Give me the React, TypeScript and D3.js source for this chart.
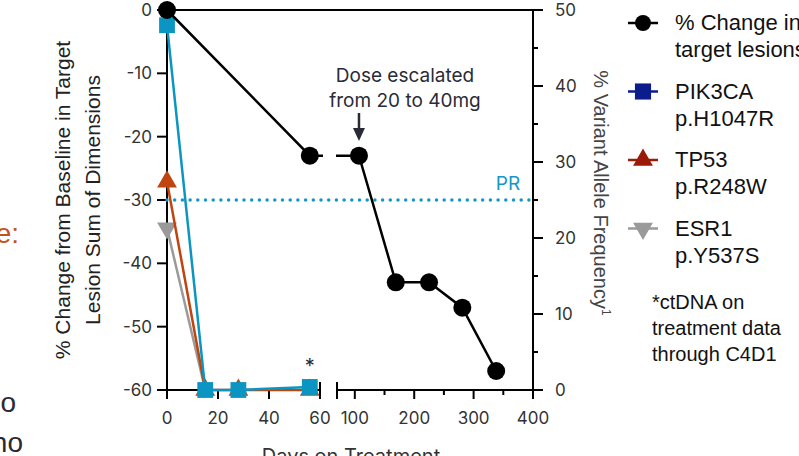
import React from "react";
import * as d3 from "d3";

// % change in target lesions (left axis)
const lesionDays = [0, 56, 107, 169, 225, 281, 338];
const lesionChange = [0, -23, -23, -43, -43, -47, -57];

// ctDNA variant allele frequency (right axis)
const vafDays = [0, 15, 28, 56];
const pik3ca = [48, 0, 0, 0.4];
const tp53 = [27.4, 0, 0, 0];
const esr1Days = [0, 15];
const esr1 = [21.3, 0];

const xTicks1 = [0, 20, 40, 60];
const xTicks2 = [100, 200, 300, 400];
const xMinor2 = [150, 250, 350];
const leftTicks = [0, -10, -20, -30, -40, -50, -60];
const rightTicks = [0, 10, 20, 30, 40, 50];
const rightMinor = [5, 15, 25, 35, 45];
const prLevel = -30;

const legendItems = [
  { lines: ["% Change in", "target lesions"], shape: "circle", color: "#000" },
  { lines: ["PIK3CA", "p.H1047R"], shape: "square", color: "#0d1c8c" },
  { lines: ["TP53", "p.R248W"], shape: "triangle", color: "#9c1a08" },
  { lines: ["ESR1", "p.Y537S"], shape: "down", color: "#9a9a9a" },
];

const W = 799;
const H = 456;
const left = 167;
const right = 533;
const top = 10;
const bottom = 390;

const tickFont = "Inter, 'DejaVu Sans', sans-serif";
const textFont = "'Liberation Sans', Arial, sans-serif";
const ink = "#2b2b38";

const symbolPath = (shape: string, size: number) => {
  const type =
    shape === "circle"
      ? d3.symbolCircle
      : shape === "square"
      ? d3.symbolSquare
      : d3.symbolTriangle;
  return d3.symbol().type(type).size(size)() as string;
};

export default function App() {
  const x1 = d3.scaleLinear().domain([0, 60]).range([left, 320]);
  const x2 = d3.scaleLinear().domain([70, 400]).range([337, right]);
  const xPos = (d: number) => (d <= 60 ? x1(d) : x2(d));
  const yL = d3.scaleLinear().domain([-60, 0]).range([bottom, top]);
  const yR = d3.scaleLinear().domain([0, 50]).range([bottom, top]);

  const lesionLine = d3
    .line<number>()
    .x((d, i) => xPos(lesionDays[i]))
    .y((d) => yL(d));

  // ESR1 undetected after baseline: line only, no marker at zero
  const vafSeries = [
    { days: esr1Days, values: esr1, color: "#9a9a9a", shape: "down", size: 170, markZero: false },
    { days: vafDays, values: tp53, color: "#c0440f", shape: "triangle", size: 170, markZero: true },
    { days: vafDays, values: pik3ca, color: "#0a95c2", shape: "square", size: 250, markZero: true },
  ];

  return (
    <svg
      width={W}
      height={H}
      style={{ position: "absolute", left: 0, top: 0, background: "#fff" }}
    >
      <defs>
        <clipPath id="brk">
          <rect x={0} y={0} width={323} height={H} />
          <rect x={336} y={0} width={W - 336} height={H} />
        </clipPath>
      </defs>

      {/* cut-off text on the left */}
      <g fontFamily={textFont} fontSize={28} textAnchor="end">
        <text x={19} y={243} fill="#c4501c">e:</text>
        <text x={16} y={412} fill="#2a2a36">o</text>
        <text x={23} y={452} fill="#2a2a36">no</text>
      </g>

      {/* frame */}
      <g stroke="#000" strokeWidth={2} fill="none">
        <line x1={left} x2={right} y1={top} y2={top} />
        <line x1={left} x2={left} y1={top} y2={bottom} />
        <line x1={right} x2={right} y1={top} y2={bottom} />
        <line x1={left - 10} x2={320} y1={bottom} y2={bottom} />
        <line x1={337} x2={right + 10} y1={bottom} y2={bottom} />
        <line x1={320} x2={320} y1={bottom - 8} y2={bottom + 9} />
        <line x1={337} x2={337} y1={bottom - 8} y2={bottom + 9} />
      </g>

      {/* left axis */}
      <g fontFamily={tickFont} fontSize={17} fill="#333">
        {leftTicks.map((t) => (
          <g key={t}>
            <line x1={left - 10} x2={left} y1={yL(t)} y2={yL(t)} stroke="#000" strokeWidth={2} />
            <text x={152} y={yL(t)} dy="0.35em" textAnchor="end">
              {t}
            </text>
          </g>
        ))}
      </g>

      {/* right axis */}
      <g fontFamily={tickFont} fontSize={17} fill="#333">
        {rightTicks.map((t) => (
          <g key={t}>
            <line x1={right} x2={right + 10} y1={yR(t)} y2={yR(t)} stroke="#000" strokeWidth={2} />
            <text x={555} y={yR(t)} dy="0.35em">
              {t}
            </text>
          </g>
        ))}
        {rightMinor.map((t) => (
          <line key={t} x1={right} x2={right + 5} y1={yR(t)} y2={yR(t)} stroke="#000" strokeWidth={2} />
        ))}
      </g>

      {/* bottom axis */}
      <g fontFamily={tickFont} fontSize={17} fill="#333" textAnchor="middle">
        {xTicks1.map((t) => (
          <g key={"a" + t}>
            <line x1={x1(t)} x2={x1(t)} y1={bottom} y2={bottom + 9} stroke="#000" strokeWidth={2} />
            <text x={x1(t)} y={424}>{t}</text>
          </g>
        ))}
        {xTicks2.map((t) => (
          <g key={"b" + t}>
            <line x1={x2(t)} x2={x2(t)} y1={bottom} y2={bottom + 9} stroke="#000" strokeWidth={2} />
            <text x={x2(t)} y={424}>{t}</text>
          </g>
        ))}
        {xMinor2.map((t) => (
          <line key={"m" + t} x1={x2(t)} x2={x2(t)} y1={bottom} y2={bottom + 5} stroke="#000" strokeWidth={2} />
        ))}
        <text x={351} y={463} fontSize={20}>Days on Treatment</text>
      </g>

      {/* axis titles */}
      <g fontFamily={textFont} fontSize={21} fill="#222" textAnchor="middle">
        <text transform={`translate(70,200) rotate(-90)`}>% Change from Baseline in Target</text>
        <text transform={`translate(100,200) rotate(-90)`}>Lesion Sum of Dimensions</text>
      </g>
      <text
        transform={`translate(594,193) rotate(90)`}
        fontFamily={textFont}
        fontSize={20}
        fill="#444"
        textAnchor="middle"
      >
        % Variant Allele Frequency
        <tspan fontSize={12} dy={-8}>1</tspan>
      </text>

      {/* PR threshold */}
      <line
        x1={left}
        x2={right}
        y1={yL(prLevel)}
        y2={yL(prLevel)}
        stroke="#1597c6"
        strokeWidth={3.5}
        strokeLinecap="round"
        strokeDasharray="0 7.7"
      />
      <text x={508} y={190} fontFamily={tickFont} fontSize={19} fill="#1597c6" textAnchor="middle">
        PR
      </text>

      {/* VAF series */}
      {vafSeries.map((s) => {
        const line = d3
          .line<number>()
          .x((d, i) => x1(s.days[i]))
          .y((d) => yR(d));
        return (
          <g key={s.color}>
            <path d={line(s.values) as string} fill="none" stroke={s.color} strokeWidth={2.5} />
            {s.values.map((v, i) =>
              v === 0 && !s.markZero ? null : (
                <path
                  key={i}
                  d={symbolPath(s.shape, s.size)}
                  transform={`translate(${x1(s.days[i])},${yR(v)})${s.shape === "down" ? " rotate(180)" : ""}`}
                  fill={s.color}
                />
              )
            )}
          </g>
        );
      })}
      <text x={x1(56)} y={373} fontFamily={tickFont} fontSize={20} fill={ink} textAnchor="middle">
        *
      </text>

      {/* lesion series */}
      <path
        d={lesionLine(lesionChange) as string}
        fill="none"
        stroke="#000"
        strokeWidth={2.5}
        clipPath="url(#brk)"
      />
      {lesionChange.map((v, i) => (
        <circle key={i} cx={xPos(lesionDays[i])} cy={yL(v)} r={9} fill="#000" />
      ))}

      {/* dose annotation */}
      <g fontFamily={tickFont} fontSize={19} fill={ink} textAnchor="middle">
        <text x={405} y={82}>Dose escalated</text>
        <text x={405} y={107}>from 20 to 40mg</text>
      </g>
      <line x1={xPos(107)} x2={xPos(107)} y1={113} y2={130} stroke={ink} strokeWidth={2.5} />
      <path
        d={`M${xPos(107) - 6},128 L${xPos(107) + 6},128 L${xPos(107)},141 Z`}
        fill={ink}
      />

      {/* legend */}
      <g fontFamily={textFont} fontSize={22} fill="#111">
        {legendItems.map((item, i) => {
          const cy = 23 + i * 68.5;
          return (
            <g key={i}>
              <line x1={628} x2={658} y1={cy} y2={cy} stroke={item.color} strokeWidth={2.5} />
              <path
                d={symbolPath(item.shape, item.shape === "circle" ? 200 : item.shape === "square" ? 260 : 170)}
                transform={`translate(643,${cy})${item.shape === "down" ? " rotate(180)" : ""}`}
                fill={item.color}
              />
              <text x={675} y={cy + 7}>{item.lines[0]}</text>
              <text x={675} y={cy + 34}>{item.lines[1]}</text>
            </g>
          );
        })}
      </g>
      <g fontFamily={textFont} fontSize={20} fill="#111">
        <text x={652} y={309}>*ctDNA on</text>
        <text x={652} y={335}>treatment data</text>
        <text x={652} y={361}>through C4D1</text>
      </g>
    </svg>
  );
}
